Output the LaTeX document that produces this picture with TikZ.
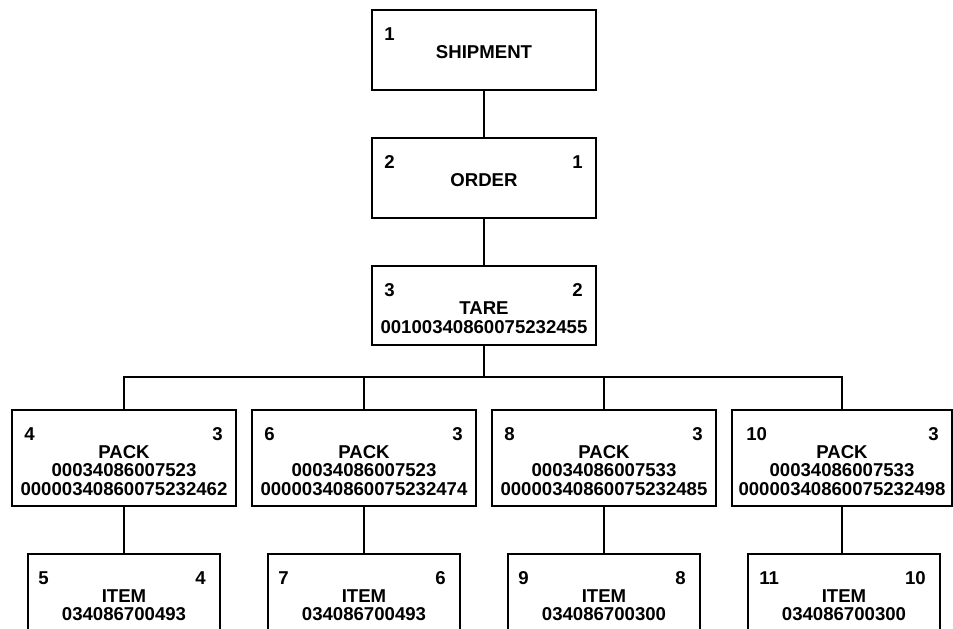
\documentclass[tikz,border=0pt]{standalone}
\usepackage{fontspec}
\setmainfont{Liberation Sans}
\usetikzlibrary{calc}
\tikzset{
  box/.style={draw, line width=1.8pt, rectangle, inner sep=0pt, anchor=north},
  shipbox/.style={box, minimum width=224pt, minimum height=80pt},
  tarebox/.style={box, minimum width=224pt, minimum height=79pt},
  packbox/.style={box, minimum width=224pt, minimum height=96pt},
  itembox/.style={box, minimum width=192pt, minimum height=100pt},
  txt/.style={font=\bfseries\fontsize{18.6}{18.6}\selectfont, inner sep=0pt},
  lnum/.style={txt, anchor=west},
  rnum/.style={txt, anchor=east},
  link/.style={draw, line width=1.8pt},
}
\begin{document}
\begin{tikzpicture}[x=1pt, y=-1pt]
\useasboundingbox (0,0) rectangle (953,629);
\fill[white] (0,0) rectangle (953,629);
\clip (0,0) rectangle (953,629);

% SHIPMENT
\node[shipbox] (s) at (484,9) {};
\node[lnum] (s-l) at ($(s.north west)+(13,25)$) {1};
\node[txt] (s-t) at ($(s.north)+(0,43)$) {SHIPMENT};

% ORDER
\node[shipbox] (o) at (484,137) {};
\node[lnum] (o-l) at ($(o.north west)+(13,25)$) {2};
\node[rnum] (o-r) at ($(o.north east)+(-14,25)$) {1};
\node[txt] (o-t) at ($(o.north)+(0,43)$) {ORDER};

% TARE
\node[tarebox] (t) at (484,265) {};
\node[lnum] (t-l) at ($(t.north west)+(13,25)$) {3};
\node[rnum] (t-r) at ($(t.north east)+(-14,25)$) {2};
\node[txt] (t-t) at ($(t.north)+(0,43)$) {TARE};
\node[txt] (t-n) at ($(t.north)+(0,62)$) {00100340860075232455};

% PACKS
\node[packbox] (p1) at (124,409) {};
\node[lnum] (p1-l) at ($(p1.north west)+(13,25)$) {4};
\node[rnum] (p1-r) at ($(p1.north east)+(-14,25)$) {3};
\node[txt] (p1-t) at ($(p1.north)+(0,43)$) {PACK};
\node[txt] (p1-a) at ($(p1.north)+(0,61)$) {00034086007523};
\node[txt] (p1-b) at ($(p1.north)+(0,80)$) {00000340860075232462};

\node[packbox] (p2) at (364,409) {};
\node[lnum] (p2-l) at ($(p2.north west)+(13,25)$) {6};
\node[rnum] (p2-r) at ($(p2.north east)+(-14,25)$) {3};
\node[txt] (p2-t) at ($(p2.north)+(0,43)$) {PACK};
\node[txt] (p2-a) at ($(p2.north)+(0,61)$) {00034086007523};
\node[txt] (p2-b) at ($(p2.north)+(0,80)$) {00000340860075232474};

\node[packbox] (p3) at (604,409) {};
\node[lnum] (p3-l) at ($(p3.north west)+(13,25)$) {8};
\node[rnum] (p3-r) at ($(p3.north east)+(-14,25)$) {3};
\node[txt] (p3-t) at ($(p3.north)+(0,43)$) {PACK};
\node[txt] (p3-a) at ($(p3.north)+(0,61)$) {00034086007533};
\node[txt] (p3-b) at ($(p3.north)+(0,80)$) {00000340860075232485};

\node[packbox, minimum width=220pt] (p4) at (842,409) {};
\node[lnum] (p4-l) at ($(p4.north west)+(15,25)$) {10};
\node[rnum] (p4-r) at ($(p4.north east)+(-14,25)$) {3};
\node[txt] (p4-t) at ($(p4.north)+(0,43)$) {PACK};
\node[txt] (p4-a) at ($(p4.north)+(0,61)$) {00034086007533};
\node[txt] (p4-b) at ($(p4.north)+(0,80)$) {00000340860075232498};

% ITEMS
\node[itembox] (i1) at (124,553) {};
\node[lnum] (i1-l) at ($(i1.north west)+(11,25)$) {5};
\node[rnum] (i1-r) at ($(i1.north east)+(-15,25)$) {4};
\node[txt] (i1-t) at ($(i1.north)+(0,43)$) {ITEM};
\node[txt] (i1-n) at ($(i1.north)+(0,61)$) {034086700493};

\node[itembox] (i2) at (364,553) {};
\node[lnum] (i2-l) at ($(i2.north west)+(11,25)$) {7};
\node[rnum] (i2-r) at ($(i2.north east)+(-15,25)$) {6};
\node[txt] (i2-t) at ($(i2.north)+(0,43)$) {ITEM};
\node[txt] (i2-n) at ($(i2.north)+(0,61)$) {034086700493};

\node[itembox] (i3) at (604,553) {};
\node[lnum] (i3-l) at ($(i3.north west)+(11,25)$) {9};
\node[rnum] (i3-r) at ($(i3.north east)+(-15,25)$) {8};
\node[txt] (i3-t) at ($(i3.north)+(0,43)$) {ITEM};
\node[txt] (i3-n) at ($(i3.north)+(0,61)$) {034086700300};

\node[itembox] (i4) at (844,553) {};
\node[lnum] (i4-l) at ($(i4.north west)+(12,25)$) {11};
\node[rnum] (i4-r) at ($(i4.north east)+(-15,25)$) {10};
\node[txt] (i4-t) at ($(i4.north)+(0,43)$) {ITEM};
\node[txt] (i4-n) at ($(i4.north)+(0,61)$) {034086700300};

% connectors
\coordinate (bus) at (484,377);
\draw[link] (s.south) -- (o.north);
\draw[link] (o.south) -- (t.north);
\draw[link] (t.south) -- (bus);
\draw[link] (p1.north) |- (bus);
\draw[link] (p4.north) |- (bus);
\draw[link] (p2.north) -- (p2.north |- bus);
\draw[link] (p3.north) -- (p3.north |- bus);
\draw[link] (p1.south) -- (i1.north);
\draw[link] (p2.south) -- (i2.north);
\draw[link] (p3.south) -- (i3.north);
\draw[link] (p4.south) -- (i4.north -| p4.south);
\end{tikzpicture}
\end{document}
